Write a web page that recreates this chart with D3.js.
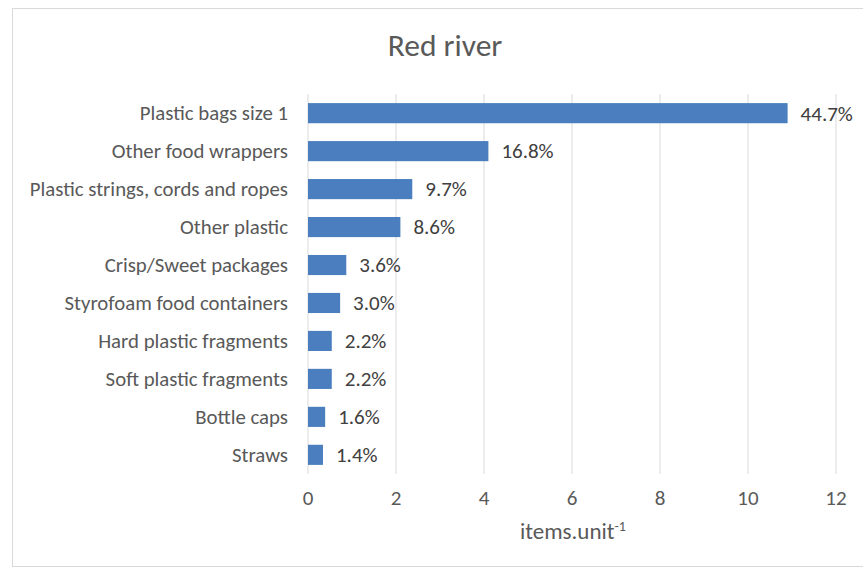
<!DOCTYPE html>
<html><head><meta charset="utf-8">
<script src="https://cdn.jsdelivr.net/npm/d3@7"></script>
<style>body{margin:0;background:#fff;} svg{display:block;}</style>
</head><body>
<svg id="c" width="863" height="573"></svg>
<script>
const categories = ["Plastic bags size 1","Other food wrappers","Plastic strings, cords and ropes","Other plastic","Crisp/Sweet packages","Styrofoam food containers","Hard plastic fragments","Soft plastic fragments","Bottle caps","Straws"];
const values = [10.9, 4.1, 2.37, 2.1, 0.87, 0.73, 0.54, 0.54, 0.39, 0.34];
const percentLabels = ["44.7%","16.8%","9.7%","8.6%","3.6%","3.0%","2.2%","2.2%","1.6%","1.4%"];
const xTicks = [0,2,4,6,8,10,12];
const title = "Red river";

const svg = d3.select("#c");
const font = "Carlito, 'Open Sans', 'Liberation Sans', sans-serif";
svg.append("rect").attr("x",12.5).attr("y",8.5).attr("width",860).attr("height",558)
  .attr("fill","#fff").attr("stroke","#d9d9d9");

const m = {left:308, right:836, top:94, bottom:474};
const x = d3.scaleLinear().domain([0,12]).range([m.left,m.right]);
const y = d3.scaleBand().domain(categories).range([m.top,m.bottom]).paddingInner(0.47).paddingOuter(0.24);

svg.append("g").selectAll("line").data(xTicks).join("line")
  .attr("x1",d=>x(d)).attr("x2",d=>x(d)).attr("y1",m.top).attr("y2",m.bottom)
  .attr("stroke","#d9d9d9").attr("stroke-width",1);

svg.append("g").selectAll("rect").data(values).join("rect")
  .attr("x",x(0)).attr("y",(d,i)=>y(categories[i]))
  .attr("width",d=>x(d)-x(0)).attr("height",y.bandwidth())
  .attr("fill","#4a7ebf");

svg.append("g").selectAll("text").data(values).join("text")
  .attr("x",d=>x(d)+13).attr("y",(d,i)=>y(categories[i])+y.bandwidth()/2)
  .attr("dy","0.35em").attr("font-family",font).attr("font-size",21).attr("fill","#404040")
  .text((d,i)=>percentLabels[i]);

svg.append("g").selectAll("text").data(categories).join("text")
  .attr("x",m.left-20).attr("y",d=>y(d)+y.bandwidth()/2).attr("dy","0.35em")
  .attr("text-anchor","end").attr("font-family",font).attr("font-size",20.8).attr("fill","#595959")
  .text(d=>d);

svg.append("g").selectAll("text").data(xTicks).join("text")
  .attr("x",d=>x(d)).attr("y",498).attr("dy","0.35em").attr("text-anchor","middle")
  .attr("font-family",font).attr("font-size",21).attr("fill","#595959").text(d=>d);

const xt = svg.append("text").attr("x",520).attr("y",539).attr("text-anchor","start")
  .attr("font-family",font).attr("font-size",23).attr("fill","#595959");
xt.append("tspan").text("items.unit");
xt.append("tspan").attr("font-size",14).attr("dy",-8).text("-1");

svg.append("text").attr("x",445).attr("y",56).attr("text-anchor","middle")
  .attr("font-family",font).attr("font-size",31.5).attr("fill","#595959").text(title);
</script>
</body></html>
